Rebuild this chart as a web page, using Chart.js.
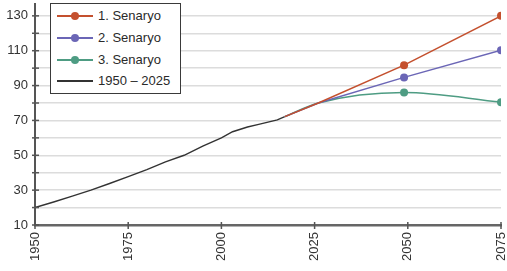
<!DOCTYPE html>
<html>
<head>
<meta charset="utf-8">
<script src="https://cdn.jsdelivr.net/npm/chart.js@4"></script>
<style>
  body { margin: 0; background: #fff; }
  #wrap { position: relative; width: 507px; height: 271px; }
  #legend {
    position: absolute; left: 50px; top: 3px; width: 129px; height: 89px;
    border: 1.5px solid #3a3a3a; background: #fff;
    font-family: "Liberation Sans", Arial, sans-serif; font-size: 13px; color: #2a2a2a;
  }
  .item { position: absolute; left: 6px; height: 16px; line-height: 16px; }
  .line { position: absolute; left: 0; top: 7px; width: 36px; height: 2px; }
  .dot { position: absolute; left: 14px; top: 4px; width: 8px; height: 8px; border-radius: 50%; }
  .txt { position: absolute; left: 41px; top: 0; white-space: nowrap; }
</style>
</head>
<body>
<div id="wrap">
  <canvas id="chart" width="507" height="271"></canvas>
  <div id="legend"></div>
</div>
<script>
// historical series
const histYears = [1950, 1955, 1960, 1965, 1970, 1975, 1980, 1985, 1990, 1995, 2000, 2003, 2007, 2010, 2015, 2017];
const histValues = [20, 23.2, 26.6, 30, 33.8, 37.8, 41.8, 46.2, 50, 55.3, 60, 63.5, 66.2, 67.7, 70.3, 72.2];

// scenarios (shared start 2017-2026)
const scenarioYears = [2017, 2026, 2049, 2075];
const scenario1 = [72.2, 80, 101.7, 130];
const scenario2 = [72.2, 80, 94.7, 110.3];
const scenario3 = [72.2, 80, 86, 80.5];

const xTicks = [1950, 1975, 2000, 2025, 2050, 2075];
const yTicks = [10, 20, 30, 40, 50, 60, 70, 80, 90, 100, 110, 120, 130];
const yLabels = [10, 30, 50, 70, 90, 110, 130];

const seriesNames = ['1. Senaryo', '2. Senaryo', '3. Senaryo', '1950 \u2013 2025'];
const colors = ['#c4502e', '#6b66b6', '#4e9c83', '#333333'];

function toPoints(xs, ys) {
    return xs.map((x, i) => ({ x: x, y: ys[i] }));
}

const markers = [0, 0, 4, 4];

const axisTicks = {
    id: 'axisTicks',
    afterDraw(chart) {
        const ctx = chart.ctx;
        const area = chart.chartArea;
        const xs = chart.scales.x, ys = chart.scales.y;
        ctx.save();
        ctx.strokeStyle = '#555';
        ctx.lineWidth = 1.5;
        yTicks.forEach(v => {
            const y = ys.getPixelForValue(v);
            ctx.beginPath();
            ctx.moveTo(area.left - 3, y);
            ctx.lineTo(area.left + 4, y);
            ctx.stroke();
        });
        xTicks.forEach(v => {
            const x = xs.getPixelForValue(v);
            ctx.beginPath();
            ctx.moveTo(x, area.bottom - 3);
            ctx.lineTo(x, area.bottom + 4);
            ctx.stroke();
        });
        ctx.restore();
    }
};

new Chart(document.getElementById('chart'), {
    type: 'line',
    data: {
        datasets: [
            { label: seriesNames[0], data: toPoints(scenarioYears, scenario1), borderColor: colors[0], backgroundColor: colors[0],
              borderWidth: 1.5, pointRadius: markers, pointBorderWidth: 0, tension: 0 },
            { label: seriesNames[1], data: toPoints(scenarioYears, scenario2), borderColor: colors[1], backgroundColor: colors[1],
              borderWidth: 1.5, pointRadius: markers, pointBorderWidth: 0, tension: 0 },
            { label: seriesNames[2], data: toPoints(scenarioYears, scenario3), borderColor: colors[2], backgroundColor: colors[2],
              borderWidth: 1.5, pointRadius: markers, pointBorderWidth: 0, cubicInterpolationMode: 'monotone' },
            { label: seriesNames[3], data: toPoints(histYears, histValues), borderColor: colors[3], backgroundColor: colors[3],
              borderWidth: 1.4, pointRadius: 0, tension: 0 }
        ]
    },
    options: {
        responsive: false,
        animation: false,
        devicePixelRatio: 1,
        layout: { padding: { top: 0, right: 6, left: 0, bottom: 0 } },
        plugins: { legend: { display: false }, tooltip: { enabled: false } },
        scales: {
            x: {
                type: 'linear', min: 1950, max: 2075,
                afterBuildTicks: s => { s.ticks = xTicks.map(v => ({ value: v })); },
                afterFit: s => { s.height = 46; s.paddingLeft = 0; s.paddingRight = 0; },
                grid: { display: true, drawOnChartArea: false, drawTicks: false },
                border: { display: true, color: '#666', width: 2.5 },
                ticks: {
                    minRotation: 90, maxRotation: 90, padding: 7, color: '#333',
                    font: { family: '"Liberation Sans", Arial, sans-serif', size: 13 },
                    callback: v => String(v)
                }
            },
            y: {
                min: 10, max: 136.8,
                afterBuildTicks: s => { s.ticks = yTicks.map(v => ({ value: v })); },
                afterFit: s => { s.width = 35; s.paddingTop = 0; s.paddingBottom = 0; },
                grid: { color: '#dcdcdc', lineWidth: 1.5, drawTicks: false },
                border: { display: true, color: '#555', width: 2 },
                ticks: {
                    autoSkip: false, padding: 7, color: '#333',
                    font: { family: '"Liberation Sans", Arial, sans-serif', size: 13 },
                    callback: v => yLabels.includes(v) ? String(v) : ''
                }
            }
        }
    },
    plugins: [axisTicks]
});

// legend box
const legend = document.getElementById('legend');
const rowTops = [4, 26, 48, 69];
seriesNames.forEach((name, i) => {
    const item = document.createElement('div');
    item.className = 'item';
    item.style.top = rowTops[i] + 'px';
    let html = '<div class="line" style="background:' + colors[i] + '"></div>';
    if (i < 3) html += '<div class="dot" style="background:' + colors[i] + '"></div>';
    html += '<div class="txt">' + name + '</div>';
    item.innerHTML = html;
    legend.appendChild(item);
});
</script>
</body>
</html>
